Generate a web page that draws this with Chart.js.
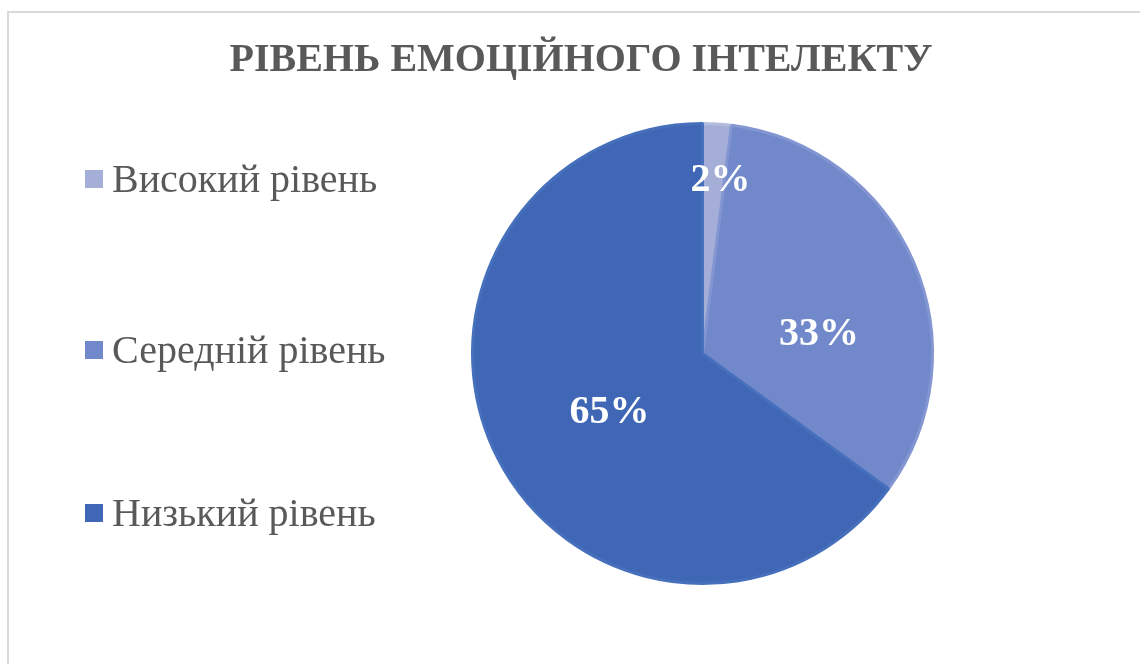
<!DOCTYPE html>
<html lang="uk">
<head>
<meta charset="utf-8">
<title>Рівень емоційного інтелекту</title>
<script src="https://cdn.jsdelivr.net/npm/chart.js@4.4.1/dist/chart.umd.min.js"></script>
<style>
    html, body { margin: 0; padding: 0; background: #ffffff; }
    #wrap { position: relative; width: 1140px; height: 664px; }
</style>
</head>
<body>
<div id="wrap"><canvas id="eq-chart" width="1140" height="664"></canvas></div>
<script>
// Data
const chartTitle = 'РІВЕНЬ ЕМОЦІЙНОГО ІНТЕЛЕКТУ';
const levels = ['Високий рівень', 'Середній рівень', 'Низький рівень'];
const shares = [2, 33, 65];
const sliceColors = ['#A4AED6', '#7189CB', '#3F67B5'];
const sliceEdges = ['#B4BDDF', '#8496D2', '#4770BC'];

// where each percent label sits inside its slice (fraction of angle / of radius)
const labelAngleFrac = [0.82, 0.61, 0.48];
const labelRadiusFrac = [0.765, 0.515, 0.475];

const textGray = '#595959';
const serif = '"Liberation Serif", "Times New Roman", serif';

const framePlugin = {
    id: 'frame',
    beforeDraw(chart) {
        const ctx = chart.ctx;
        ctx.save();
        ctx.fillStyle = '#ffffff';
        ctx.fillRect(0, 0, chart.width, chart.height);
        ctx.strokeStyle = '#d9d9d9';
        ctx.lineWidth = 2;
        ctx.beginPath();
        ctx.moveTo(8, chart.height + 5);
        ctx.lineTo(8, 12);
        ctx.lineTo(chart.width + 5, 12);
        ctx.stroke();
        ctx.restore();
    }
};

// title, side legend and percent labels
const decorPlugin = {
    id: 'decor',
    afterDraw(chart) {
        const ctx = chart.ctx;
        ctx.save();

        ctx.fillStyle = textGray;
        ctx.font = 'bold 40px ' + serif;
        ctx.textAlign = 'center';
        ctx.textBaseline = 'middle';
        ctx.fillText(chartTitle, 581, 61);

        const ds = chart.data.datasets[0];
        const rowsY = [179, 350, 513];
        ctx.textAlign = 'left';
        ctx.font = '40px ' + serif;
        chart.data.labels.forEach((label, i) => {
            ctx.fillStyle = ds.backgroundColor[i];
            ctx.fillRect(85, rowsY[i] - 9, 18, 18);
            ctx.fillStyle = textGray;
            ctx.fillText(label, 112, rowsY[i] + 2);
        });

        const total = ds.data.reduce((a, b) => a + b, 0);
        const meta = chart.getDatasetMeta(0);
        ctx.fillStyle = '#ffffff';
        ctx.font = 'bold 40px ' + serif;
        ctx.textAlign = 'center';
        meta.data.forEach((arc, i) => {
            const p = arc.getProps(['x', 'y', 'startAngle', 'endAngle', 'outerRadius'], true);
            const a = p.startAngle + (p.endAngle - p.startAngle) * labelAngleFrac[i];
            const r = p.outerRadius * labelRadiusFrac[i];
            const pct = Math.round(ds.data[i] / total * 100) + '%';
            ctx.fillText(pct, p.x + Math.cos(a) * r, p.y + Math.sin(a) * r + 2);
        });
        ctx.restore();
    }
};

new Chart(document.getElementById('eq-chart'), {
    type: 'pie',
    data: {
        labels: levels,
        datasets: [{
            data: shares,
            backgroundColor: sliceColors,
            borderColor: sliceEdges,
            borderWidth: 3
        }]
    },
    options: {
        responsive: false,
        animation: false,
        layout: {
            padding: { left: 471, right: 206, top: 122, bottom: 79 }
        },
        plugins: {
            legend: { display: false },
            title: { display: false },
            tooltip: { enabled: false }
        }
    },
    plugins: [framePlugin, decorPlugin]
});
</script>
</body>
</html>
